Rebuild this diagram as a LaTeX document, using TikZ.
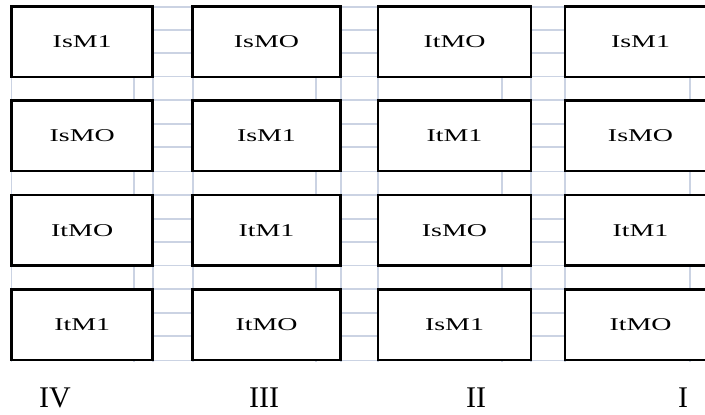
\documentclass[tikz,border=0pt]{standalone}
\usepackage{fontspec}
\setmainfont{Liberation Serif}
\newfontfamily\lblfont[FakeStretch=1.55]{Liberation Serif}
\definecolor{gridc}{HTML}{CBD3E3}
\begin{document}
\begin{tikzpicture}[x=0.5pt,y=-0.5pt,
  cell/.style={draw=black,fill=white,line width=1.25pt,inner sep=0pt,
    minimum height=35.25pt,font=\lblfont\fontsize{9}{10}\selectfont},
  gridline/.style={draw=gridc,line width=0.6pt},
  numeral/.style={anchor=base,inner sep=0pt,font=\fontsize{15}{18}\selectfont}]
\useasboundingbox (0,0) rectangle (705,414);
% background grid
\foreach \gx in {11.7,134,153,193,316,341,378,502,531,565,690}
  \draw[gridline] (\gx,5) -- (\gx,362);
\foreach \gy in {7,30,53,76.5,100,124,147,171.5,195,219,242,265.5,289,313,336,360.5}
  \draw[gridline] (11.7,\gy) -- (705,\gy);
% boxes
\foreach \r/\cy/\la/\lb/\lc/\ld in {1/41.75/IsM1/IsMO/ItMO/IsM1,
                                 2/135.75/IsMO/IsM1/ItM1/IsMO,
                                 3/230.25/ItMO/ItM1/IsMO/ItM1,
                                 4/324.75/ItM1/ItMO/IsM1/ItMO}{
  \node[cell,minimum width=70.5pt] (b\r a) at (82.2,\cy) {\la};
  \node[cell,minimum width=73.8pt] (b\r b) at (266.5,\cy) {\lb};
  \node[cell,minimum width=76.5pt] (b\r c) at (454.5,\cy) {\lc};
  \node[cell,minimum width=75.5pt] (b\r d) at (640.5,\cy) {\ld};
}
% column numerals
\node[numeral] (n4) at (55,407) {IV};
\node[numeral] (n3) at (264,407) {III};
\node[numeral] (n2) at (476,407) {II};
\node[numeral] (n1) at (683,407) {I};
\end{tikzpicture}
\end{document}
